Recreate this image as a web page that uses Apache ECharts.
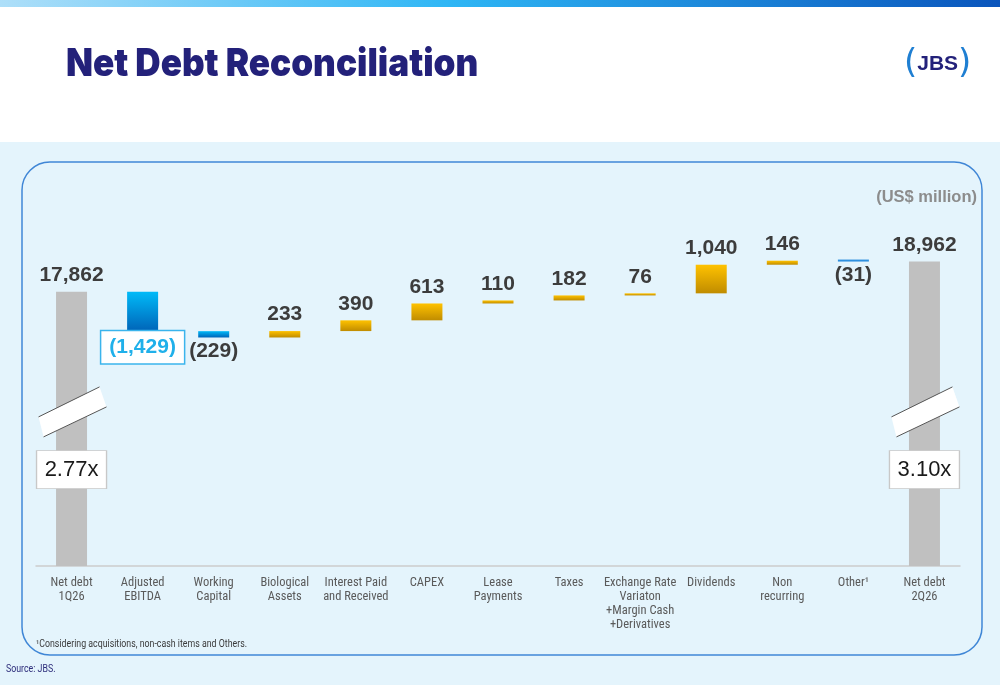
<!DOCTYPE html>
<html>
<head>
    <meta charset="utf-8">
    <title>Net Debt Reconciliation</title>
    <script src="https://cdn.jsdelivr.net/npm/echarts@6/dist/echarts.min.js"></script>
    <style>
        html, body { margin: 0; padding: 0; background: #fff; }
        #main { width: 1000px; height: 685px; }
    </style>
</head>
<body>
<div id="main"></div>
<script type="text/javascript">
    // data (US$ million)
    var categories = ['Net debt\n1Q26', 'Adjusted\nEBITDA', 'Working\nCapital', 'Biological\nAssets',
        'Interest Paid\nand Received', 'CAPEX', 'Lease\nPayments', 'Taxes',
        'Exchange Rate\nVariaton\n+Margin Cash\n+Derivatives', 'Dividends', 'Non\nrecurring', 'Other¹', 'Net debt\n2Q26'];
    var changes = [17862, -1429, -229, 233, 390, 613, 110, 182, 76, 1040, 146, -31, 18962];
    var isTotal = [true, false, false, false, false, false, false, false, false, false, false, false, true];
    var leverage = ['2.77x', '', '', '', '', '', '', '', '', '', '', '', '3.10x'];

    // where the leverage boxes and axis-break marks sit (axis units)
    var leverageBoxAt = 11400;
    var breakAt = 13500;

    var myChart = echarts.init(document.getElementById('main'));

    function fmt(v) {
        var s = Math.abs(v).toLocaleString('en-US');
        return v < 0 ? '(' + s + ')' : s;
    }

    var blue = new echarts.graphic.LinearGradient(0, 0, 0, 1, [
        {offset: 0, color: '#00baf8'}, {offset: 1, color: '#0064b8'}]);
    var gold = new echarts.graphic.LinearGradient(0, 0, 0, 1, [
        {offset: 0, color: '#ffc200'}, {offset: 1, color: '#c08c00'}]);

    // waterfall: invisible base + visible step
    var baseData = [], stepData = [];
    var running = 0;
    for (var i = 0; i < changes.length; i++) {
        var v = changes[i];
        var item = {value: 0, itemStyle: {}, label: {}};
        if (isTotal[i]) {
            running = v;
            baseData.push(0);
            item.value = v;
            item.itemStyle.color = '#c0c0c0';
            item.label.position = 'top';
        } else {
            var next = running + v;
            baseData.push(Math.min(running, next));
            item.value = Math.abs(v);
            running = next;
            if (v < 0) {
                item.itemStyle.color = Math.abs(v) < 50 ? '#2e90e0' : blue;
                item.label.position = 'bottom';
                item.label.distance = 3;
            } else {
                item.itemStyle.color = gold;
                item.label.position = 'top';
            }
        }
        stepData.push(item);
    }
    // EBITDA label is boxed in the slide
    stepData[1].label = {
        position: 'bottom', distance: 0, color: '#1fb0ea',
        backgroundColor: '#ffffff', borderColor: '#3ab4ec', borderWidth: 1.5,
        padding: [6, 8, 5, 8]
    };

    var boxPoints = [];
    leverage.forEach(function (t, idx) {
        if (t) boxPoints.push({name: t, coord: [idx, leverageBoxAt]});
    });

    var narrow = "'Liberation Sans Narrow', 'Roboto Condensed', 'Arial Narrow', Roboto";

    var option = {
        backgroundColor: '#ffffff',
        animation: false,
        grid: {left: 36, right: 40, top: 200, bottom: 119},
        xAxis: {
            type: 'category',
            data: categories,
            axisTick: {show: false},
            axisLine: {lineStyle: {color: '#cccccc', width: 1.5}},
            axisLabel: {
                interval: 0, margin: 10, color: '#5a5a5a',
                fontFamily: narrow, fontSize: 12.5, lineHeight: 14
            }
        },
        yAxis: {
            type: 'value', show: false, min: 7900, max: 21200,
            splitLine: {show: false}
        },
        series: [{
            name: 'base',
            type: 'bar',
            stack: 'w',
            barWidth: 31,
            silent: true,
            itemStyle: {color: 'rgba(0,0,0,0)'},
            data: baseData
        }, {
            name: 'step',
            type: 'bar',
            stack: 'w',
            barWidth: 31,
            barMinHeight: 2,
            label: {
                show: true,
                fontFamily: 'Liberation Sans', fontWeight: 'bold', fontSize: 21,
                color: '#3c3c3c', distance: 6,
                formatter: function (p) { return fmt(changes[p.dataIndex]); }
            },
            data: stepData,
            markPoint: {
                symbol: 'rect',
                symbolSize: [70, 38],
                itemStyle: {color: '#ffffff', borderColor: '#c8c8c8', borderWidth: 1},
                label: {
                    show: true, position: 'inside', formatter: '{b}',
                    fontFamily: 'Liberation Sans', fontSize: 22, color: '#1a1a1a'
                },
                data: boxPoints
            }
        }],
        graphic: [
            {type: 'rect', z: -20, shape: {x: 0, y: 0, width: 1000, height: 7},
                style: {fill: new echarts.graphic.LinearGradient(0, 0, 1, 0, [
                    {offset: 0, color: '#aedff9'}, {offset: 0.45, color: '#2eb6f5'}, {offset: 1, color: '#0a55bc'}])}},
            {type: 'rect', z: -20, shape: {x: 0, y: 142, width: 1000, height: 543},
                style: {fill: '#e4f4fc'}},
            {type: 'rect', z: -19, shape: {x: 22, y: 162, width: 960, height: 493, r: 28},
                style: {fill: 'none', stroke: '#3f86d6', lineWidth: 1.5}},
            {type: 'text', x: 66, y: 45, scaleX: 0.90,
                style: {text: 'Net Debt Reconciliation', fill: '#23217a',
                    font: '900 39px Inter', verticalAlign: 'top'}},
            {type: 'text', x: 904, y: 47,
                style: {text: '{p|(}{j|JBS}{p|)}', verticalAlign: 'top', fill: '#23217a',
                    rich: {
                        p: {fontSize: 34, fill: '#1f7fd2', fontFamily: 'DejaVu Sans'},
                        j: {fontSize: 21, fontWeight: 'bold', fill: '#23217a', fontFamily: 'Liberation Sans'}
                    }}},
            {type: 'text', right: 23, top: 189,
                style: {text: '(US$ million)', fill: '#8c8c8c', font: 'bold 16.5px Liberation Sans'}},
            {type: 'text', x: 36, y: 639, scaleX: 0.88,
                style: {text: '¹Considering acquisitions, non-cash items and Others.', fill: '#3a3a3a',
                    font: '10px Roboto', verticalAlign: 'top'}},
            {type: 'text', x: 6, y: 664, scaleX: 0.88,
                style: {text: 'Source: JBS.', fill: '#2c2c7a', font: '10px Roboto', verticalAlign: 'top'}}
        ]
    };

    if (option && typeof option === "object") {
        myChart.setOption(option, true);
    }

    // axis-break marks over the two total bars
    var breaks = [];
    isTotal.forEach(function (t, idx) {
        if (!t) return;
        var c = myChart.convertToPixel({xAxisIndex: 0, yAxisIndex: 0}, [idx, breakAt]);
        var x = c[0], y = c[1];
        breaks.push({type: 'polygon', z: 50,
            shape: {points: [[x - 33, y + 5], [x + 28, y - 25], [x + 35, y - 5], [x - 28, y + 25]]},
            style: {fill: '#ffffff'}});
        breaks.push({type: 'line', z: 51,
            shape: {x1: x - 33, y1: y + 5, x2: x + 28, y2: y - 25},
            style: {stroke: '#555555', lineWidth: 1}});
        breaks.push({type: 'line', z: 51,
            shape: {x1: x - 28, y1: y + 25, x2: x + 35, y2: y - 5},
            style: {stroke: '#555555', lineWidth: 1}});
    });
    myChart.setOption({graphic: option.graphic.concat(breaks)});
</script>
</body>
</html>
